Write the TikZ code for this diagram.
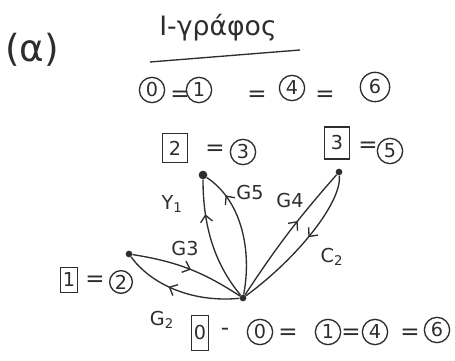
\documentclass[tikz,border=0pt]{standalone}
\usepackage{fontspec}
\setmainfont{DejaVu Sans}
\usepackage{xcolor}
\usetikzlibrary{positioning, decorations.markings, arrows.meta}
\definecolor{ink}{RGB}{45,45,45}

\begin{document}
\begin{tikzpicture}[x=0.75pt, y=0.75pt, color=ink,
  num/.style={circle, draw=ink, line width=1pt, inner sep=1pt, minimum size=19pt, font=\Large},
  cls/.style={rectangle, draw=ink, line width=1pt, inner sep=2pt, minimum width=19pt, minimum height=22pt, font=\Large},
  eq/.style={font=\LARGE},
  vtx/.style={circle, fill=ink, inner sep=0pt, minimum size=5pt},
  lbl/.style={font=\Large},
  edge/.style={draw=ink, line width=1pt},
  mid/.style={decoration={markings, mark=at position #1 with {\arrow{Straight Barb[length=5pt, width=9pt]}}}, postaction={decorate}}]

  \useasboundingbox (0,0) rectangle (455,361);

  \node [font=\fontsize{28}{30}\selectfont] (part) at (32,311) {(α)};
  \node [font=\fontsize{20}{24}\selectfont] (title) at (218,333) {Ι-γράφος};
  \draw [edge] (150,299) -- (300,311);

  \node [num] (ra) at (152,271) {0};
  \node [eq] (rae) at (180,265) {=};
  \node [num] (rb) at (199,271) {1};
  \node [eq] (rbe) at (257,265) {=};
  \node [num] (rc) at (292,273) {4};
  \node [eq] (rce) at (325,265) {=};
  \node [num, minimum size=22pt] (rd) at (375,274) {6};

  \node [cls] (c2) at (175,213) {2};
  \node [eq] (c2e) at (215,211) {=};
  \node [num] (c2n) at (243,209) {3};
  \node [cls, minimum height=24pt] (c3) at (337,218) {3};
  \node [eq] (c3e) at (368,214) {=};
  \node [num] (c3n) at (390,210) {5};
  \node [cls, minimum width=13pt, minimum height=19pt] (c1) at (69,81) {1};
  \node [eq] (c1e) at (95,80) {=};
  \node [num, minimum size=17pt] (c1n) at (121,79) {2};

  \node [cls, minimum width=12pt, minimum height=26pt] (c0) at (200,28) {0};
  \node [eq] (c0e) at (225,29) {-};
  \node [num] (sa) at (260,29) {0};
  \node [eq] (sae) at (288,27) {=};
  \node [num] (sb) at (328,29) {1};
  \node [eq] (sbe) at (351,27) {=};
  \node [num] (sc) at (375,29) {4};
  \node [eq] (sce) at (410,27) {=};
  \node [num] (sd) at (437,31) {6};

  \node [vtx, minimum size=6.5pt] (t1) at (203,186) {};
  \node [vtx] (t2) at (339,189) {};
  \node [vtx] (b) at (243,63) {};
  \node [vtx] (l) at (129,107) {};

  \draw [edge, mid=0.72] (b) .. controls (212,100) and (203,140) .. (t1);
  \draw [edge, mid=0.8] (b) .. controls (252,110) and (242,160) .. (t1);
  \draw [edge, mid=0.6] (b) to[bend left=4] (t2);
  \draw [edge, mid=0.45] (t2) .. controls (342,160) and (300,105) .. (b);
  \draw [edge, mid=0.52] (l) to[bend left=12] (b);
  \draw [edge, mid=0.6] (b) .. controls (190,58) and (150,78) .. (l);

  \node [lbl] (g1) at (172,157) {Y\textsubscript{1}};
  \node [lbl] (g5) at (250,168) {G5};
  \node [lbl] (g4) at (290,160) {G4};
  \node [lbl] (k2) at (332,104) {C\textsubscript{2}};
  \node [lbl] (g3) at (185,112) {G3};
  \node [lbl] (g2) at (162,41) {G\textsubscript{2}};

\end{tikzpicture}
\end{document}
